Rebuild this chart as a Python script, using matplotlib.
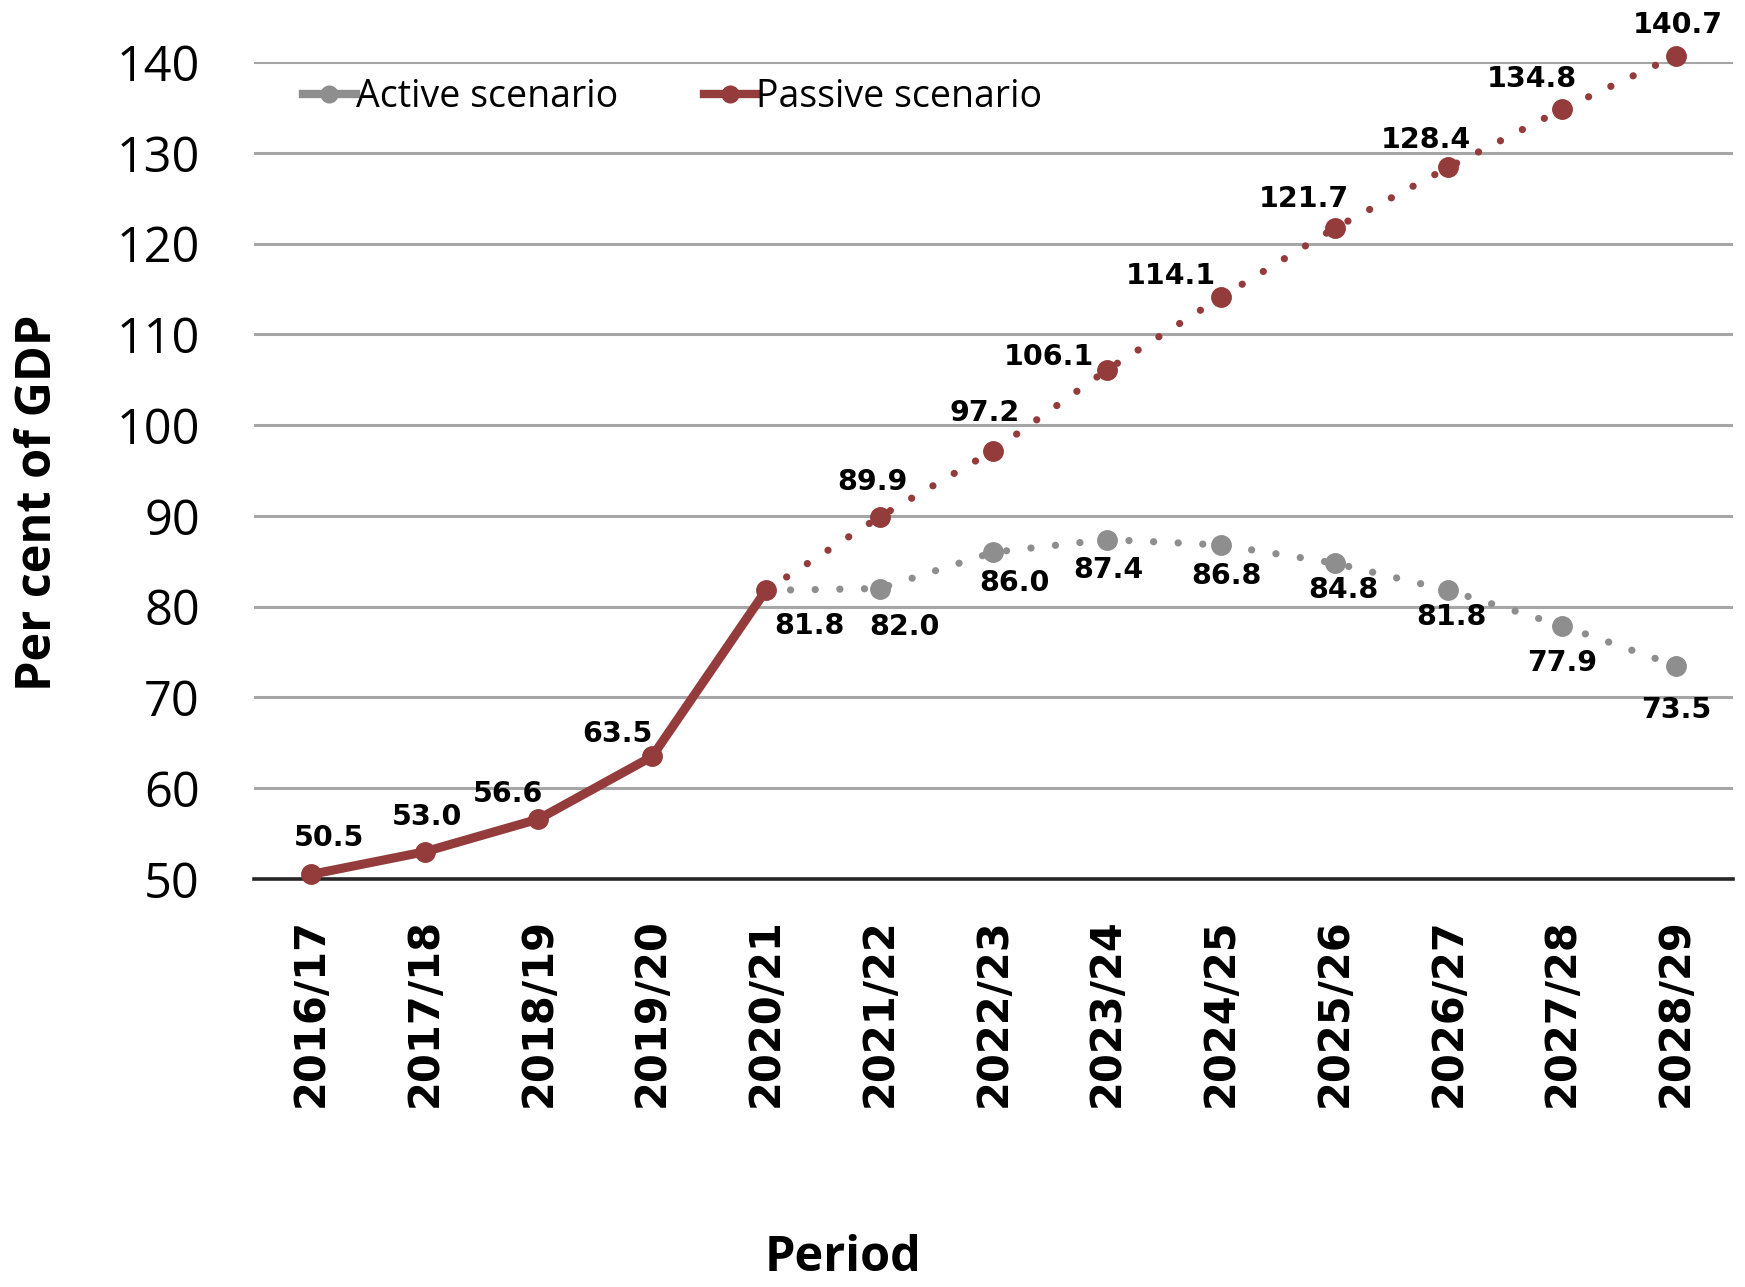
import matplotlib
matplotlib.use('Agg')
import matplotlib.pyplot as plt
from matplotlib.lines import Line2D

# data (per cent of GDP)
periods = ['2016/17', '2017/18', '2018/19', '2019/20', '2020/21', '2021/22', '2022/23',
           '2023/24', '2024/25', '2025/26', '2026/27', '2027/28', '2028/29']
history = [50.5, 53.0, 56.6, 63.5, 81.8]          # 2016/17 .. 2020/21
passive = [81.8, 89.9, 97.2, 106.1, 114.1, 121.7, 128.4, 134.8, 140.7]  # 2020/21 ..
active = [81.8, 82.0, 86.0, 87.4, 86.8, 84.8, 81.8, 77.9, 73.5]        # 2020/21 ..
yticks = [50, 60, 70, 80, 90, 100, 110, 120, 130, 140]

# label offsets in points (style only)
hist_off = [(13, 26), (2, 25), (-22, 18), (-25, 16), (31, -26)]
pass_off = [(-5, 25), (-6, 27), (-42, 9), (-36, 15), (-22, 21), (-16, 20), (-22, 22), (1, 22)]
act_off = [(18, -28), (15, -22), (1, -22), (4, -22), (6, -19), (2, -19), (0, -27), (0, -32)]

RED = '#943B3B'
GREY = '#8E8E8E'
dots = (0, (0.01, 3.4))

fig = plt.figure(figsize=(17.45, 12.87), dpi=100)
ax = fig.add_axes([0.1456, 0.317, 0.8474, 0.6348])

x_hist = list(range(len(history)))
x_proj = list(range(len(history) - 1, len(periods)))

ax.plot(x_proj, active, color=GREY, lw=5.2, linestyle=dots, dash_capstyle='round',
        marker='o', ms=14, markevery=list(range(1, len(active))), clip_on=False, zorder=3)
ax.plot(x_proj, passive, color=RED, lw=5.2, linestyle=dots, dash_capstyle='round',
        marker='o', ms=14, markevery=list(range(1, len(passive))), clip_on=False, zorder=4)
ax.plot(x_hist, history, color=RED, lw=6.5, marker='o', ms=14, clip_on=False, zorder=5)

lab = dict(ha='center', va='center', fontsize=20.5, fontweight='bold', family='DejaVu Sans',
           textcoords='offset points', annotation_clip=False, zorder=6)
for xi, v, off in zip(x_hist, history, hist_off):
    ax.annotate(f'{v:.1f}', (xi, v), xytext=off, **lab)
for xi, v, off in zip(x_proj[1:], passive[1:], pass_off):
    ax.annotate(f'{v:.1f}', (xi, v), xytext=off, **lab)
for xi, v, off in zip(x_proj[1:], active[1:], act_off):
    ax.annotate(f'{v:.1f}', (xi, v), xytext=off, **lab)

ax.set_xlim(-0.5, len(periods) - 0.5)
ax.set_ylim(50, 140)
ax.set_yticks(yticks)
ax.set_xticks(range(len(periods)))
ax.set_xticklabels(periods, rotation=90, fontsize=30, fontweight='bold', family='DejaVu Sans')
ax.set_yticklabels([str(t) for t in yticks], fontsize=35, family='Open Sans')
ax.tick_params(axis='y', length=0, pad=39)
ax.tick_params(axis='x', length=0, pad=28)
ax.grid(axis='y', color='#A6A6A6', lw=2.2)
ax.set_axisbelow(True)
for s in ['top', 'right', 'left']:
    ax.spines[s].set_visible(False)
ax.spines['bottom'].set_color('#262626')
ax.spines['bottom'].set_linewidth(2.6)
ax.spines['bottom'].set_zorder(2.5)

handles = [Line2D([], [], color=GREY, lw=6, marker='o', ms=12),
           Line2D([], [], color=RED, lw=6, marker='o', ms=12)]
fig.legend(handles, ['Active scenario', 'Passive scenario'], loc='center left',
           bbox_to_anchor=(303 / 1745, 1 - 97 / 1287), ncol=2, frameon=False,
           borderpad=0, borderaxespad=0, handlelength=1.4, handletextpad=0.0,
           columnspacing=2.3, prop={'family': 'Open Sans', 'size': 27})

fig.text(39 / 1745, 1 - 503 / 1287, 'Per cent of GDP', rotation=90, ha='center', va='center',
         fontsize=35, fontweight='bold', family='Open Sans')
fig.text(843 / 1745, 16 / 1287, 'Period', ha='center', va='baseline',
         fontsize=35, fontweight='bold', family='Open Sans')

fig.savefig('out.png', dpi=100)
